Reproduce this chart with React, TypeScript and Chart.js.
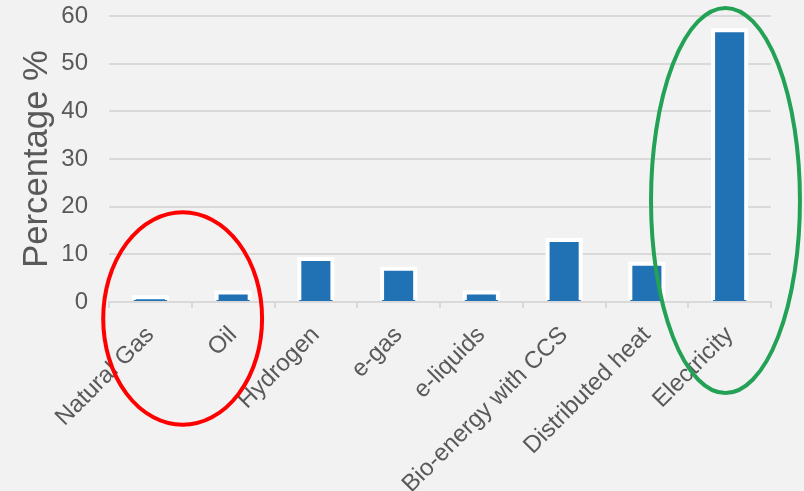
import React, { useEffect, useRef } from "react";
import { Chart, registerables } from "chart.js";

Chart.register(...registerables);

const categories = [
  "Natural Gas",
  "Oil",
  "Hydrogen",
  "e-gas",
  "e-liquids",
  "Bio-energy with CCS",
  "Distributed heat",
  "Electricity",
];
const shares = [1, 2, 9, 7, 2, 13, 8, 57];
const yMin = 0;
const yMax = 60;
const yStep = 10;
const yTitle = "Percentage %";

// highlight ellipses expressed in axis units (category index, value)
const redHighlight = { cx: 0.39, cy: -3.46, rx: 0.96, ry: 22.3 };
const greenHighlight = { cx: 6.95, cy: 21.3, rx: 0.9, ry: 40.4 };

const FONT = "'Liberation Sans', Arial, sans-serif";
const TEXT = "#595959";
const GRID = "#d9d9d9";

const barOutline = {
  id: "barOutline",
  afterDatasetsDraw(chart: any) {
    const ctx = chart.ctx;
    const meta = chart.getDatasetMeta(0);
    ctx.save();
    ctx.strokeStyle = "#ffffff";
    ctx.lineWidth = 4;
    ctx.lineJoin = "miter";
    meta.data.forEach((el: any) => {
      const { x, y, base, width } = el.getProps(["x", "y", "base", "width"], true);
      const l = x - width / 2;
      const r = x + width / 2;
      ctx.beginPath();
      ctx.moveTo(l, base - 1);
      ctx.lineTo(l, y);
      ctx.lineTo(r, y);
      ctx.lineTo(r, base - 1);
      ctx.stroke();
    });
    ctx.restore();
  },
};

const highlights = {
  id: "highlights",
  afterDraw(chart: any) {
    const ctx = chart.ctx;
    const xs = chart.scales.x;
    const ys = chart.scales.y;
    const unitX = xs.getPixelForValue(1) - xs.getPixelForValue(0);
    const unitY = ys.getPixelForValue(0) - ys.getPixelForValue(1);
    const draw = (h: any, color: string) => {
      const cx = xs.getPixelForValue(h.cx);
      const cy = ys.getPixelForValue(h.cy);
      ctx.save();
      ctx.beginPath();
      ctx.ellipse(cx, cy, h.rx * unitX, h.ry * unitY, 0, 0, Math.PI * 2);
      ctx.strokeStyle = color;
      ctx.lineWidth = 4;
      ctx.stroke();
      ctx.restore();
    };
    draw(redHighlight, "#ff0000");
    draw(greenHighlight, "#23a155");
  },
};

export default function App() {
  const ref = useRef<HTMLCanvasElement>(null);
  useEffect(() => {
    document.body.style.margin = "0";
    document.body.style.background = "#f2f2f2";
    const chart = new Chart(ref.current as HTMLCanvasElement, {
      type: "bar",
      data: {
        labels: categories,
        datasets: [
          {
            data: shares,
            backgroundColor: "#2171b5",
            borderWidth: 0,
            barPercentage: 0.4,
            categoryPercentage: 1,
          },
        ],
      },
      options: {
        animation: false,
        responsive: false,
        maintainAspectRatio: false,
        layout: { padding: { top: 16, right: 33, left: 0, bottom: 0 } },
        plugins: { legend: { display: false }, tooltip: { enabled: false } },
        scales: {
          x: {
            offset: true,
            grid: {
              display: true,
              drawOnChartArea: false,
              drawTicks: true,
              tickLength: 6,
              offset: true,
              color: GRID,
              lineWidth: 2,
            },
            border: { display: true, color: GRID, width: 2 },
            ticks: {
              minRotation: 45,
              maxRotation: 45,
              autoSkip: false,
              padding: 13,
              color: TEXT,
              font: { family: FONT, size: 24 },
            },
            afterFit(scale: any) {
              scale.height = 189;
            },
          },
          y: {
            min: yMin,
            max: yMax,
            ticks: {
              stepSize: yStep,
              padding: 21,
              color: TEXT,
              font: { family: FONT, size: 24 },
            },
            grid: { color: GRID, lineWidth: 2, drawTicks: false },
            border: { display: false },
            title: {
              display: true,
              text: yTitle,
              color: TEXT,
              font: { family: FONT, size: 34.67, lineHeight: 1 },
              padding: { top: 20, bottom: 0 },
            },
            afterFit(scale: any) {
              scale.width = 109;
              scale.paddingTop = 0;
              scale.paddingBottom = 0;
            },
          },
        },
      },
      plugins: [barOutline, highlights],
    });
    return () => chart.destroy();
  }, []);
  return (
    <div style={{ width: 804, height: 491, background: "#f2f2f2" }}>
      <canvas ref={ref} width={804} height={491} style={{ display: "block" }} />
    </div>
  );
}
